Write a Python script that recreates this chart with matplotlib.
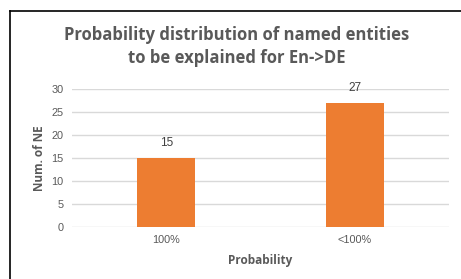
import matplotlib.pyplot as plt
from matplotlib.lines import Line2D

categories = ['100%', '<100%']
counts = [15, 27]
yticks = [0, 5, 10, 15, 20, 25, 30]

txt = '#595959'
plt.rcParams['font.family'] = ['Open Sans', 'DejaVu Sans']

fig = plt.figure(figsize=(4.61, 2.79), dpi=100)
ax = fig.add_axes([72 / 461, 1 - 227 / 279, 377 / 461, 138 / 279])

x = range(len(categories))
bars = ax.bar(x, counts, width=0.31, color='#ED7D31', zorder=3)
for b, v in zip(bars, counts):
    ax.text(b.get_x() + b.get_width() / 2, v + 2.0, str(v), ha='center', va='bottom',
            fontsize=8.5, color='#404040', family='Liberation Sans')

ax.set_xlim(-0.5, 1.5)
ax.set_ylim(0, 30)
ax.set_yticks(yticks)
ax.set_xticks(list(x))
ax.set_xticklabels(categories)
ax.grid(axis='y', color='#D9D9D9', linewidth=1, zorder=0)
for s in ax.spines.values():
    s.set_visible(False)
ax.tick_params(length=0, labelsize=7.8, colors=txt, pad=6)
for lab in ax.get_xticklabels() + ax.get_yticklabels():
    lab.set_family('Liberation Sans')
ax.set_xlabel('Probability', fontsize=8.5, color=txt, fontweight='bold', labelpad=6)
ax.set_ylabel('Num. of NE', fontsize=8.5, color=txt, fontweight='bold', labelpad=4)

fig.text(0.513, 1 - 35 / 279, 'Probability distribution of named entities', ha='center', va='center',
         fontsize=12, fontweight='bold', color=txt)
fig.text(0.513, 1 - 58 / 279, 'to be explained for En->DE', ha='center', va='center',
         fontsize=12, fontweight='bold', color=txt)

# frame of the original chart box (left and top edges only)
fig.add_artist(Line2D([10 / 461, 10 / 461], [0, 1 - 11 / 279], color='black', lw=1.2))
fig.add_artist(Line2D([10 / 461, 1], [1 - 11 / 279, 1 - 11 / 279], color='black', lw=1.2))

fig.savefig('out.png', dpi=100)
